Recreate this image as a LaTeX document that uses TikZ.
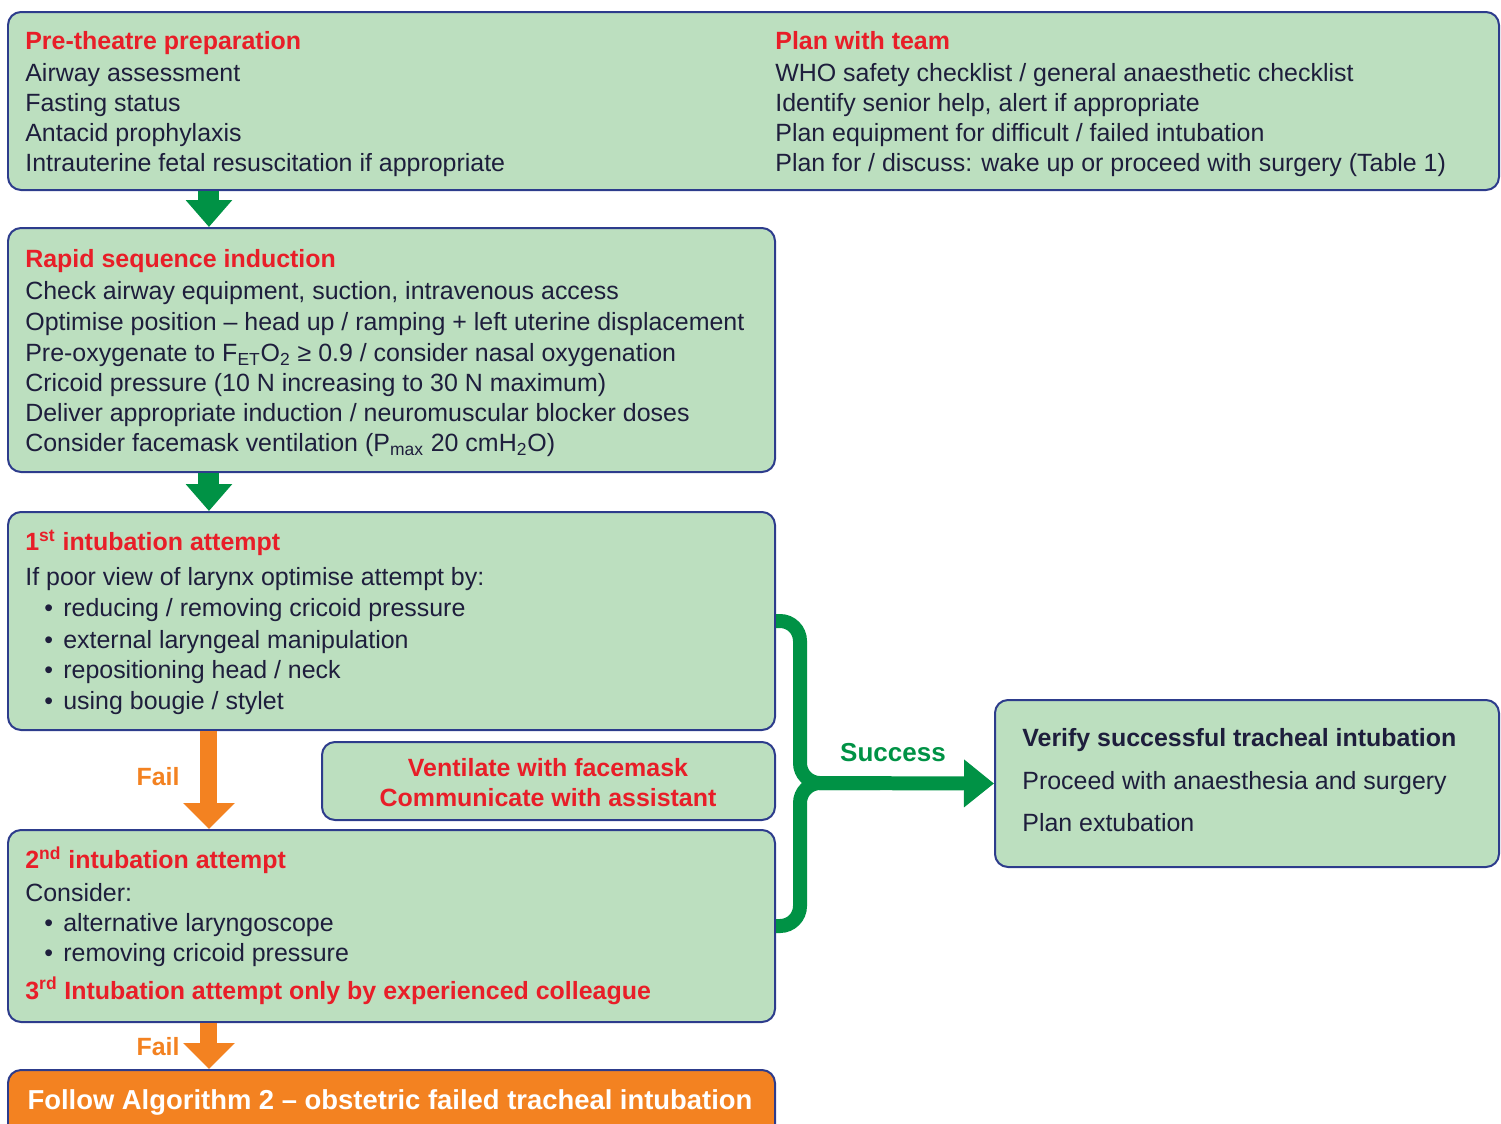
\documentclass[tikz,border=0pt]{standalone}
\usepackage{fontspec}
\setmainfont{Liberation Sans}
\usetikzlibrary{arrows.meta,fit}

\definecolor{boxfill}{RGB}{188,223,191}
\definecolor{boxline}{RGB}{45,60,140}
\definecolor{txtdark}{RGB}{30,30,60}
\definecolor{titlered}{RGB}{232,30,40}
\definecolor{failorange}{RGB}{243,130,33}
\definecolor{okgreen}{RGB}{0,146,69}

\newcommand{\headred}[1]{\textcolor{titlered}{\bfseries #1}}
\newcommand{\itembul}{\hspace*{3.8mm}\makebox[3.8mm][l]{\textbullet}}

\tikzset{
  box/.style={draw=boxline, line width=0.04cm, fill=boxfill, rounded corners=0.26cm, inner sep=0pt},
  txt/.style={text=txtdark, align=left, anchor=north west, inner sep=0pt,
    font=\fontsize{14.2}{17.07}\selectfont},
  lbl/.style={anchor=base, inner sep=0pt, font=\fontsize{14.2}{17.07}\selectfont\bfseries},
  greenarrow/.style={draw=okgreen, line width=0.42cm, -{Triangle[length=0.54cm, width=0.9cm]}},
  failarrow/.style={draw=failorange, line width=0.34cm, -{Triangle[length=0.52cm, width=1.0cm]}},
  bracket/.style={draw=okgreen, line width=0.28cm, rounded corners=0.4cm}
}

\begin{document}
\begin{tikzpicture}[x=0.02cm, y=-0.02cm]
  \useasboundingbox (0,0) rectangle (1501,1123);

  % boxes
  \node[box, fit={(8,12) (1499,190)}] (prep) {};
  \node[box, fit={(8,228) (775,472)}] (rsi) {};
  \node[box, fit={(8,512) (775,730)}] (att1) {};
  \node[box, fit={(322,742) (775,820)}] (vent) {};
  \node[box, fit={(8,830) (775,1022)}] (att2) {};
  \node[box, fill=failorange, fit={(8,1070) (775,1145)}] (algo) {};
  \node[box, fit={(995,700) (1499,867)}] (verify) {};

  % texts
  \node[txt] (prepL) at (25,31) {\headred{Pre-theatre preparation}\\[0.4mm]
    Airway assessment\\ Fasting status\\ Antacid prophylaxis\\
    Intrauterine fetal resuscitation if appropriate};
  \node[txt] (prepR) at (775,31) {\headred{Plan with team}\\[0.4mm]
    WHO safety checklist / general anaesthetic checklist\\
    Identify senior help, alert if appropriate\\
    Plan equipment for difficult / failed intubation\\
    Plan for / discuss: wake up or proceed with surgery (Table 1)};
  \node[txt] (rsiT) at (25,249) {\headred{Rapid sequence induction}\\[0.4mm]
    Check airway equipment, suction, intravenous access\\[0.2mm]
    Optimise position – head up / ramping + left uterine displacement\\[0.2mm]
    Pre-oxygenate to F\textsubscript{ET}O\textsubscript{2} ≥ 0.9 / consider nasal oxygenation\\
    Cricoid pressure (10 N increasing to 30 N maximum)\\
    Deliver appropriate induction / neuromuscular blocker doses\\
    Consider facemask ventilation (P\textsubscript{max} 20 cmH\textsubscript{2}O)};
  \node[txt] (att1T) at (25,530) {\headred{1\textsuperscript{st} intubation attempt}\\[1mm]
    If poor view of larynx optimise attempt by:\\[0.2mm]
    \itembul reducing / removing cricoid pressure\\[0.4mm]
    \itembul external laryngeal manipulation\\
    \itembul repositioning head / neck\\[0.2mm]
    \itembul using bougie / stylet};
  \node[txt, align=center, anchor=north, text=titlered, font=\fontsize{14.2}{17.07}\selectfont\bfseries]
    (ventT) at (548,758) {Ventilate with facemask\\ Communicate with assistant};
  \node[txt] (att2T) at (25,846) {\headred{2\textsuperscript{nd} intubation attempt}\\[0.6mm]
    Consider:\\
    \itembul alternative laryngoscope\\
    \itembul removing cricoid pressure\\[1.6mm]
    \headred{3\textsuperscript{rd} Intubation attempt only by experienced colleague}};
  \node[txt] (verifyT) at (1022,728) {\textbf{Verify successful tracheal intubation}\\[2.6mm]
    Proceed with anaesthesia and surgery\\[2.4mm]
    Plan extubation};
  \node[lbl, text=white, font=\fontsize{15.6}{18}\selectfont\bfseries] (algoT) at (390,1109)
    {Follow Algorithm 2 – obstetric failed tracheal intubation};

  % connectors
  \draw[greenarrow] ([xshift=4.04cm]prep.south west) -- ([xshift=4.04cm]rsi.north west);
  \draw[greenarrow] ([xshift=4.04cm]rsi.south west) -- ([xshift=4.04cm]att1.north west);
  \draw[failarrow] ([xshift=4.04cm]att1.south west) -- ([xshift=4.04cm]att2.north west);
  \draw[failarrow] ([xshift=4.04cm]att2.south west) -- ([xshift=4.04cm]algo.north west);
  \node[lbl, text=failorange] (fail1) at (158,785) {Fail};
  \node[lbl, text=failorange] (fail2) at (158,1055) {Fail};

  \coordinate (join) at (800,783);
  \coordinate (joinr) at (880,783);
  \draw[bracket] (att2.east) -| (join) -- (joinr);
  \draw[bracket, -{Triangle[length=0.6cm, width=0.92cm]}] (att1.east) -| (join) -- (verify.west);
  \node[lbl, text=okgreen, font=\fontsize{14.8}{17.07}\selectfont\bfseries] (succ) at (893,761) {Success};
\end{tikzpicture}
\end{document}
